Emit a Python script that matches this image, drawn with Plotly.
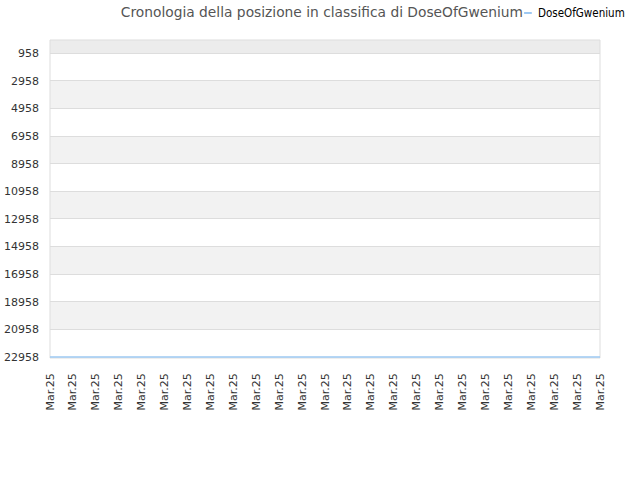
import plotly.graph_objects as go

# ranking history (one point per snapshot)
dates = ["Mar.25", "Mar.25", "Mar.25", "Mar.25", "Mar.25", "Mar.25", "Mar.25",
         "Mar.25", "Mar.25", "Mar.25", "Mar.25", "Mar.25", "Mar.25", "Mar.25",
         "Mar.25", "Mar.25", "Mar.25", "Mar.25", "Mar.25", "Mar.25", "Mar.25",
         "Mar.25", "Mar.25", "Mar.25", "Mar.25"]
ranks = [22958, 22958, 22958, 22958, 22958, 22958, 22958, 22958, 22958,
         22958, 22958, 22958, 22958, 22958, 22958, 22958, 22958, 22958,
         22958, 22958, 22958, 22958, 22958, 22958, 22958]
y_ticks = [958, 2958, 4958, 6958, 8958, 10958, 12958, 14958, 16958,
           18958, 20958, 22958]
player = "DoseOfGwenium"
line_color = "#9cc8f2"

x_pos = list(range(len(dates)))

fig = go.Figure()
fig.add_trace(go.Scatter(
    x=x_pos, y=ranks, mode="lines", name=player,
    line=dict(color=line_color, width=1.5),
))

# alternating background bands
shapes = [dict(type="rect", xref="paper", yref="y", x0=0, x1=1,
               y0=0, y1=y_ticks[0], fillcolor="#ececec", line_width=0,
               layer="below")]
for i in range(len(y_ticks) - 1):
    if i % 2 == 1:
        shapes.append(dict(type="rect", xref="paper", yref="y", x0=0, x1=1,
                           y0=y_ticks[i], y1=y_ticks[i + 1],
                           fillcolor="#f2f2f2", line_width=0, layer="below"))
# frame
shapes.append(dict(type="rect", xref="paper", yref="paper", x0=0, x1=1,
                   y0=0, y1=1, line=dict(color="#dddddd", width=1),
                   layer="below"))

# compact legend: short swatch + name, top right next to the title
legend_y = 1.085
shapes.append(dict(type="line", xref="paper", yref="paper",
                   x0=0.862, x1=0.876, y0=legend_y, y1=legend_y,
                   line=dict(color=line_color, width=2)))

fig.update_layout(
    width=640, height=480,
    margin=dict(l=50, r=40, t=40, b=122, autoexpand=False),
    paper_bgcolor="white", plot_bgcolor="white",
    font=dict(family="DejaVu Sans", size=11, color="#333333"),
    title=dict(text="Cronologia della posizione in classifica di " + player,
               x=0.503, xanchor="center", yref="container", y=0.974,
               yanchor="middle", pad=dict(t=0, b=0),
               font=dict(size=13.8, color="#555555")),
    showlegend=False,
    annotations=[dict(text=player, xref="paper", yref="paper",
                      x=0.8836, y=legend_y, xanchor="left", yanchor="middle",
                      showarrow=False,
                      font=dict(family="DejaVu Sans Condensed", size=11.5,
                                color="#000000"))],
    shapes=shapes,
    xaxis=dict(tickmode="array", tickvals=x_pos, ticktext=dates,
               tickangle=-90, range=[0, len(dates) - 1], showgrid=False,
               zeroline=False, showline=False, ticks="", automargin=False,
               ticklabelstandoff=12, tickfont=dict(size=11)),
    yaxis=dict(tickmode="array", tickvals=y_ticks,
               ticktext=[str(v) for v in y_ticks],
               range=[23030, 0], showgrid=True, gridcolor="#dddddd",
               zeroline=False, showline=False, ticks="", automargin=False,
               ticklabelstandoff=10, tickfont=dict(size=11)),
)

# drop the default page margin so the figure sits at the window's corner
fig.write_html("out.html", config={"displayModeBar": False},
               post_script="document.body.style.margin = '0';")
